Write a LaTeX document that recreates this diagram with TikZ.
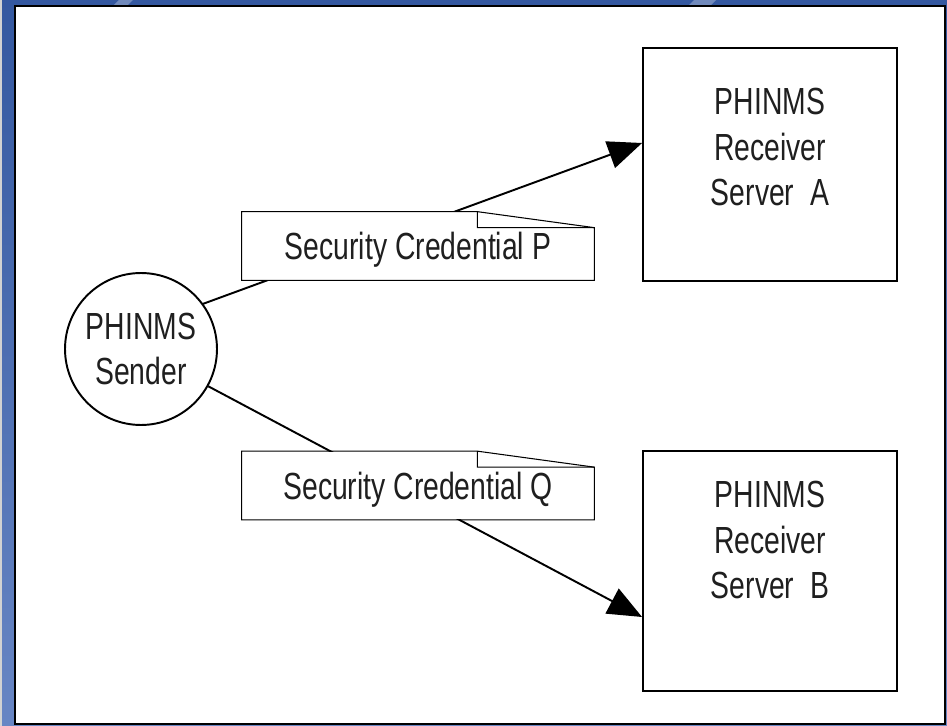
\documentclass[tikz,border=0pt]{standalone}
\usepackage{fontspec}
\setmainfont[FakeStretch=0.75]{Liberation Sans}
\usetikzlibrary{arrows.meta,positioning}
\definecolor{slideblue}{RGB}{52,88,160}
\definecolor{slidelight}{RGB}{104,134,196}

\begin{document}
\begin{tikzpicture}[x=0.02cm, y=-0.02cm,
  every node/.style={font=\fontsize{21.5}{26}\selectfont, text=black!88},
  srv/.style={draw, line width=1.1pt, inner sep=0pt, minimum width=5.08cm},
  sender/.style={draw, circle, line width=1.1pt, inner sep=0pt,
                 minimum size=3.04cm, align=center},
  note/.style={fill=white, inner sep=0pt, minimum width=7.04cm,
               minimum height=1.36cm, text depth=0pt},
  arr/.style={-{Triangle[length=0.68cm, width=0.56cm]}, line width=1.1pt}
]
% slide background and panel
\shade[top color=slideblue, bottom color=slidelight] (0,0) rectangle (947,726);
\fill[gray!35] (0,0) rectangle (2,726);
\fill[white, opacity=0.3] (113,6) -- (119,0) -- (133,0) -- (127,6) -- cycle;
\fill[white, opacity=0.3] (688,6) -- (694,0) -- (716,0) -- (710,6) -- cycle;
\draw[line width=1.1pt, fill=white] (15,6) rectangle (945,724);

% nodes
\node[sender] (snd) at (141,349) {PHINMS\\Sender};
\node[srv, minimum height=4.66cm] (srvA) at (770,164.5) {};
\node[srv, minimum height=4.8cm]  (srvB) at (770,571) {};
\node[align=center] (txtA) at (770,147) {PHINMS\\Receiver\\Server\ \ A};
\node[align=center] (txtB) at (770,540) {PHINMS\\Receiver\\Server\ \ B};

% connectors
\draw[arr] (snd.36.6)  -- (srvA.west |- 0,143);
\draw[arr] (snd.-29.6) -- (srvB.west |- 0,617);

% credentials
\node[note] (credP) at (418,246) {Security Credential P};
\node[note] (credQ) at (418,485.5) {Security Credential Q};
\foreach \n in {credP, credQ} {
  \draw[line width=0.6pt] (\n.south west) -- (\n.north west)
    -- ([xshift=-2.34cm]\n.north east) -- ([yshift=-0.32cm]\n.north east)
    -- (\n.south east) -- cycle;
  \draw[line width=0.6pt] ([xshift=-2.34cm]\n.north east) -- ++(0,16)
    -- ([yshift=-0.32cm]\n.north east);
}
\end{tikzpicture}
\end{document}
